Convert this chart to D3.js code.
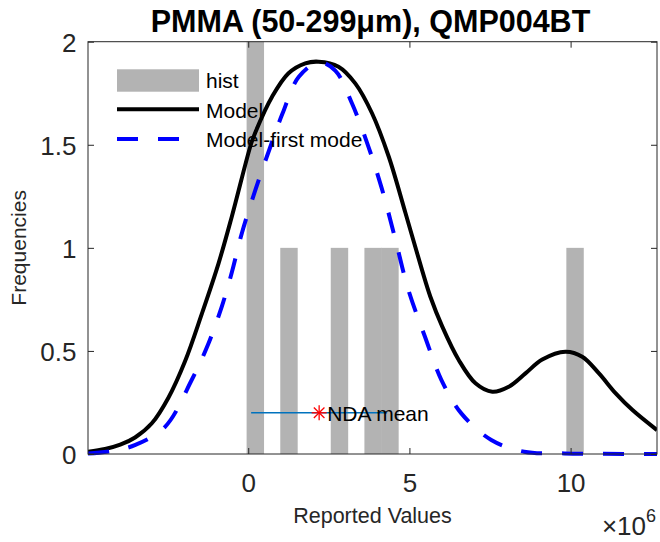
<!DOCTYPE html>
<html><head><meta charset="utf-8">
<script src="https://cdn.jsdelivr.net/npm/d3@7"></script>
<style>
html,body{margin:0;padding:0;background:#fff;}
svg{display:block;font-family:"Liberation Sans",Arial,Helvetica,sans-serif;}
</style></head>
<body>
<svg id="chart" width="660" height="542"></svg>
<script>
// ---- data ----
const titleText = "PMMA (50-299\u03bcm), QMP004BT";
const xDomain = [-4.97e6, 12.68e6];
const yDomain = [0, 2];
const xTicks = [0, 5e6, 10e6];
const yTicks = [0, 0.5, 1, 1.5, 2];
// histogram bins (left edge) and counts
const binWidth = 0.522e6;
const binLefts = [-0.05e6, 0.994e6, 2.56e6, 3.604e6, 4.126e6, 9.868e6];
const binCounts = [2, 1, 1, 1, 1, 1];
// Model curve (black)
const modelX = [-4.97, -4.44, -3.97, -3.51, -2.99, -2.48, -1.96, -1.44, -0.92, -0.51, 0.08, 0.22, 0.74, 1.25, 1.77, 2.18, 2.80, 3.32, 3.84, 4.36, 4.88, 5.39, 5.65, 6.02, 6.53, 7.05, 7.57, 8.08, 8.60, 9.12, 9.84, 10.36, 10.88, 11.40, 11.92, 12.68].map(d => d * 1e6);
const modelY = [0.011, 0.024, 0.045, 0.080, 0.149, 0.272, 0.450, 0.680, 0.925, 1.151, 1.50, 1.56, 1.733, 1.847, 1.895, 1.903, 1.879, 1.798, 1.653, 1.442, 1.168, 0.893, 0.763, 0.618, 0.456, 0.343, 0.302, 0.326, 0.391, 0.458, 0.496, 0.472, 0.391, 0.294, 0.213, 0.116];
// Model-first mode (blue dashed)
const firstX = [-4.97, -4.2, -3.5, -2.58, -1.75, -1.23, -0.82, -0.51, -0.2, 0.22, 0.64, 1.06, 1.57, 2.19, 2.70, 3.22, 3.73, 4.14, 4.55, 4.96, 5.48, 5.99, 6.61, 7.54, 8.56, 9.8, 11.0, 12.68].map(d => d * 1e6);
const firstY = [0.002, 0.015, 0.044, 0.132, 0.36, 0.537, 0.715, 0.88, 1.07, 1.28, 1.47, 1.65, 1.83, 1.90, 1.86, 1.70, 1.49, 1.29, 1.05, 0.80, 0.57, 0.36, 0.197, 0.068, 0.011, 0.003, 0.001, 0.0];
// NDA mean
const ndaMean = 2.2e6;
const ndaRange = [0.09e6, 4.31e6];
const ndaLevel = 0.2;
const legendLabels = ["hist", "Model", "Model-first mode"];

// ---- layout ----
const L = 88, R = 657, T = 41.7, B = 454;
const axisColor = "#262626";
const svg = d3.select("#chart");
const x = d3.scaleLinear().domain(xDomain).range([L, R]);
const y = d3.scaleLinear().domain(yDomain).range([B, T]);

svg.append("defs").append("clipPath").attr("id", "clip")
  .append("rect").attr("x", L).attr("y", T - 3).attr("width", R - L).attr("height", B - T + 6);

const plot = svg.append("g").attr("clip-path", "url(#clip)");

// bars
plot.selectAll("rect.bar").data(binLefts.map((l, i) => ({l, c: binCounts[i]})))
  .enter().append("rect").attr("class", "bar")
  .attr("x", d => x(d.l)).attr("width", d => x(d.l + binWidth) - x(d.l) + 0.6)
  .attr("y", d => y(d.c)).attr("height", d => y(0) - y(d.c))
  .attr("fill", "#b3b3b3");

const line = d3.line().x(d => x(d[0])).y(d => y(d[1])).curve(d3.curveCatmullRom.alpha(0.5));
plot.append("path").datum(modelX.map((v, i) => [v, modelY[i]]))
  .attr("d", line).attr("fill", "none").attr("stroke", "#000").attr("stroke-width", 4);
plot.append("path").datum(firstX.map((v, i) => [v, firstY[i]]))
  .attr("d", line).attr("fill", "none").attr("stroke", "#0000ff").attr("stroke-width", 4)
  .attr("stroke-dasharray", "21,20");

// NDA mean
plot.append("line").attr("x1", x(ndaRange[0])).attr("x2", x(ndaRange[1]))
  .attr("y1", y(ndaLevel)).attr("y2", y(ndaLevel)).attr("stroke", "#0072bd").attr("stroke-width", 1.3);
const sx = x(ndaMean), sy = y(ndaLevel), s = 7.5, sd = 5.3;
const star = plot.append("g").attr("stroke", "#ff0000").attr("stroke-width", 1.3);
star.append("line").attr("x1", sx - s).attr("x2", sx + s).attr("y1", sy).attr("y2", sy);
star.append("line").attr("x1", sx).attr("x2", sx).attr("y1", sy - s).attr("y2", sy + s);
star.append("line").attr("x1", sx - sd).attr("x2", sx + sd).attr("y1", sy - sd).attr("y2", sy + sd);
star.append("line").attr("x1", sx - sd).attr("x2", sx + sd).attr("y1", sy + sd).attr("y2", sy - sd);
svg.append("text").attr("x", sx + 8).attr("y", sy + 8).attr("font-size", 21).attr("fill", "#000").text("NDA mean");

// axes
const fs = 26;
const gL = svg.append("g").attr("transform", `translate(${L},0)`)
  .call(d3.axisLeft(y).tickValues(yTicks).tickFormat(d3.format("")).tickSize(-6).tickPadding(11.5).tickSizeOuter(0));
const gR = svg.append("g").attr("transform", `translate(${R},0)`)
  .call(d3.axisRight(y).tickValues(yTicks).tickFormat("").tickSize(-6).tickSizeOuter(0));
const gB = svg.append("g").attr("transform", `translate(0,${B})`)
  .call(d3.axisBottom(x).tickValues(xTicks).tickFormat(d => d / 1e6).tickSize(-6).tickPadding(19.5).tickSizeOuter(0));
const gT = svg.append("g").attr("transform", `translate(0,${T})`)
  .call(d3.axisTop(x).tickValues(xTicks).tickFormat("").tickSize(-6).tickSizeOuter(0));
[gL, gR, gB, gT].forEach(g => {
  g.select(".domain").remove();
  g.selectAll("line").attr("stroke", axisColor);
  g.selectAll("text").attr("fill", axisColor).attr("font-size", fs)
    .attr("font-family", '"Liberation Sans",Arial,Helvetica,sans-serif');
});
gL.selectAll("text").attr("dy", "0.38em");
svg.append("rect").attr("x", L).attr("y", T).attr("width", R - L).attr("height", B - T)
  .attr("fill", "none").attr("stroke", axisColor).attr("stroke-width", 1);

// exponent
const ex = svg.append("text").attr("x", 656).attr("y", 535).attr("text-anchor", "end")
  .attr("fill", axisColor).attr("font-size", fs);
ex.append("tspan").text("\u00d710");
ex.append("tspan").attr("dy", -13).attr("font-size", 18).text("6");

// labels
svg.append("text").attr("x", (L + R) / 2).attr("y", 523).attr("text-anchor", "middle")
  .attr("font-size", 21.5).attr("fill", axisColor).text("Reported Values");
svg.append("text").attr("transform", `translate(26,${(T + B) / 2}) rotate(-90)`).attr("text-anchor", "middle")
  .attr("font-size", 21).attr("fill", axisColor).text("Frequencies");
svg.append("text").attr("x", (L + R) / 2 - 2).attr("y", 31.5).attr("text-anchor", "middle")
  .attr("font-size", 30.5).attr("font-weight", "bold").attr("fill", "#000").text(titleText);

// legend
const lg = svg.append("g");
lg.append("rect").attr("x", 117).attr("y", 69.3).attr("width", 82).attr("height", 22.4).attr("fill", "#b3b3b3");
lg.append("line").attr("x1", 117).attr("x2", 199).attr("y1", 109.3).attr("y2", 109.3).attr("stroke", "#000").attr("stroke-width", 4);
lg.append("line").attr("x1", 117).attr("x2", 199).attr("y1", 139).attr("y2", 139).attr("stroke", "#0000ff").attr("stroke-width", 4).attr("stroke-dasharray", "21,20");
const ly = [88, 117.5, 147];
lg.selectAll("text.lt").data(legendLabels).enter().append("text").attr("class", "lt")
  .attr("x", 206).attr("y", (d, i) => ly[i]).attr("font-size", 21).attr("fill", "#000").text(d => d);
</script>
</body></html>
